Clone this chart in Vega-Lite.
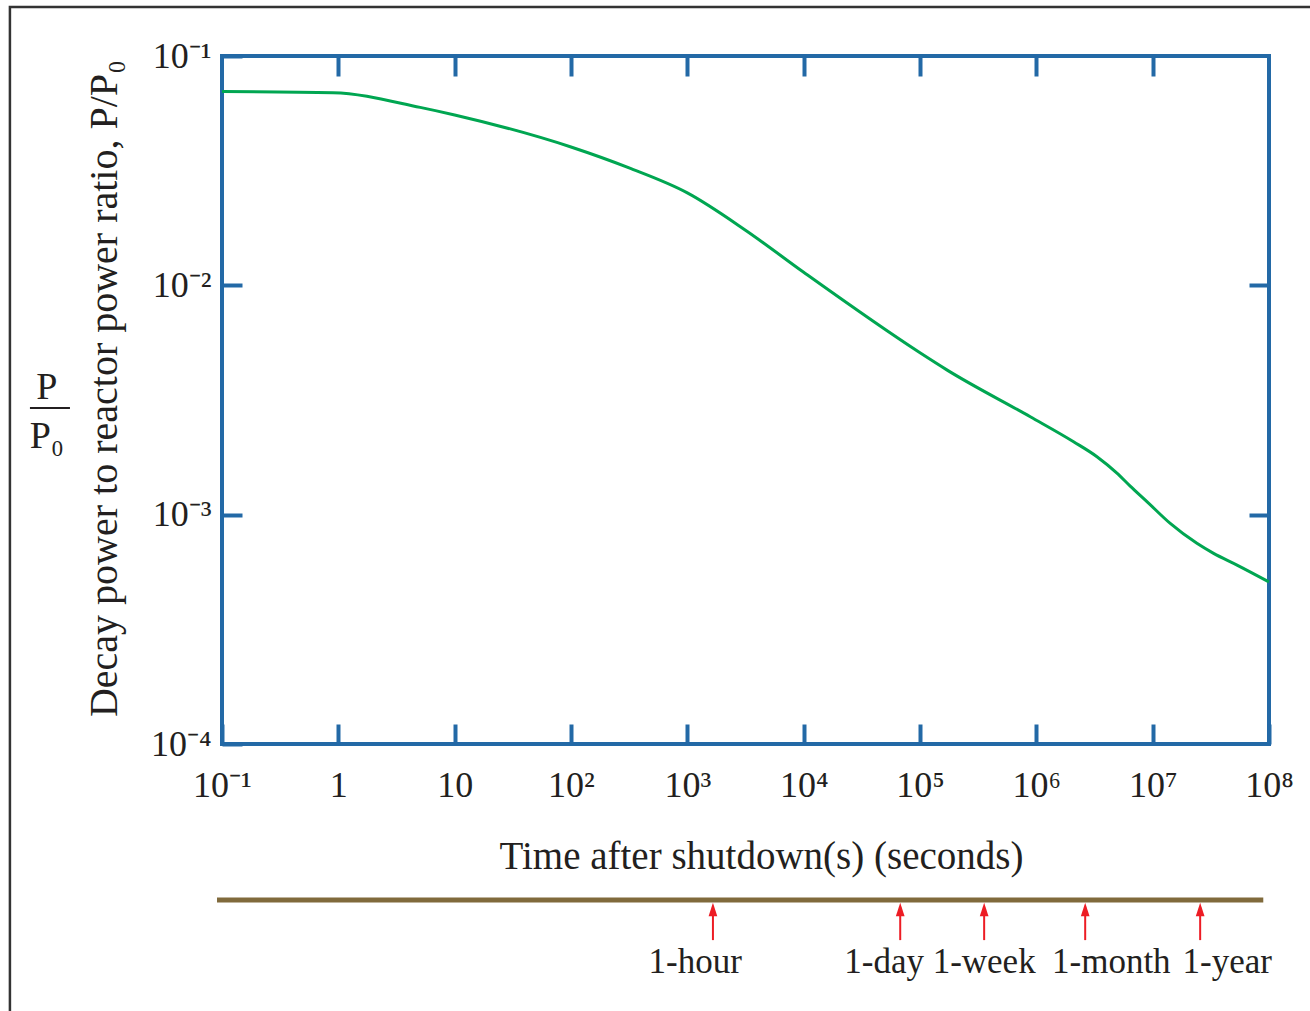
{
  "$schema": "https://vega.github.io/schema/vega-lite/v6.json",
  "width": 1047,
  "height": 688,
  "autosize": {"type": "none"},
  "padding": {"left": 222, "top": 56, "right": 41, "bottom": 267},
  "background": "white",
  "config": {
    "view": {"stroke": "#2369a6", "strokeWidth": 4},
    "font": "Liberation Serif"
  },
  "resolve": {"axis": {"x": "independent", "y": "independent"}},
  "layer": [
    {
      "data": {"values": [{}]},
      "mark": {"type": "rect", "fill": null, "stroke": "#333333", "strokeWidth": 2.5},
      "encoding": {
        "x": {"datum": 0.001503, "type": "quantitative", "axis": null},
        "x2": {"datum": 300000000},
        "y": {"datum": 0.1637, "type": "quantitative", "axis": null},
        "y2": {"datum": 0.000005}
      }
    },
    {
      "data": {"name": "curve", "values": [
        {"t": 0.1, "p": 0.0700},
        {"t": 0.9, "p": 0.0692},
        {"t": 5.05, "p": 0.0597},
        {"t": 10, "p": 0.0553},
        {"t": 100, "p": 0.0401},
        {"t": 316, "p": 0.0325},
        {"t": 1000, "p": 0.0253},
        {"t": 3162, "p": 0.0174},
        {"t": 10000, "p": 0.0114},
        {"t": 100000, "p": 0.00508},
        {"t": 170000, "p": 0.00428},
        {"t": 887000, "p": 0.002673},
        {"t": 2090000, "p": 0.00208},
        {"t": 3320000, "p": 0.00179},
        {"t": 4930000, "p": 0.001518},
        {"t": 6410000, "p": 0.001332},
        {"t": 8930000, "p": 0.00114},
        {"t": 14160000, "p": 0.000916},
        {"t": 24000000, "p": 0.00075},
        {"t": 33400000, "p": 0.000678},
        {"t": 53100000, "p": 0.000603},
        {"t": 100000000, "p": 0.000509}
      ]},
      "mark": {"type": "line", "color": "#00a651", "strokeWidth": 3, "interpolate": "monotone"},
      "encoding": {
        "x": {
          "field": "t", "type": "quantitative",
          "scale": {"type": "log", "domain": [0.1, 100000000], "nice": false},
          "axis": {
            "orient": "bottom",
            "values": [0.1, 1, 10, 100, 1000, 10000, 100000, 1000000, 10000000, 100000000],
            "domain": false, "grid": false,
            "tickSize": -20, "tickWidth": 4, "tickColor": "#2369a6",
            "labelFont": "Liberation Serif", "labelFontSize": 36, "labelColor": "#231f20",
            "labelPadding": 44, "labelFlush": false, "labelOverlap": false,
            "labelExpr": "datum.value < 0.5 ? '10⁻¹' : datum.value < 5 ? '1' : datum.value < 50 ? '10' : '10' + ['','','²','³','⁴','⁵','⁶','⁷','⁸'][round(log(datum.value)/LN10)]",
            "title": "Time after shutdown(s) (seconds)",
            "titleFont": "Liberation Serif", "titleFontSize": 39, "titleFontWeight": "normal",
            "titleColor": "#231f20", "titlePadding": 34, "titleX": 539
          }
        },
        "y": {
          "field": "p", "type": "quantitative",
          "scale": {"type": "log", "domain": [0.0001, 0.1], "nice": false},
          "axis": {
            "orient": "left",
            "values": [0.1, 0.01, 0.001, 0.0001],
            "domain": false, "grid": false,
            "tickSize": -20, "tickWidth": 4, "tickColor": "#2369a6",
            "labelFont": "Liberation Serif", "labelFontSize": 36, "labelColor": "#231f20",
            "labelPadding": 31, "labelFlush": false, "labelOverlap": false,
            "labelExpr": "'10' + ['⁻¹','⁻²','⁻³','⁻⁴'][round(-log(datum.value)/LN10) - 1]",
            "title": "Decay power to reactor power ratio, P/P₀",
            "titleFont": "Liberation Serif", "titleFontSize": 40, "titleFontWeight": "normal",
            "titleColor": "#231f20", "titlePadding": 26, "titleY": 332
          }
        }
      }
    },
    {
      "data": {"name": "curve"},
      "mark": {"type": "line", "strokeOpacity": 0},
      "encoding": {
        "x": {
          "field": "t", "type": "quantitative",
          "axis": {
            "orient": "top",
            "values": [1, 10, 100, 1000, 10000, 100000, 1000000, 10000000],
            "domain": false, "grid": false, "labels": false, "title": null,
            "tickSize": -20, "tickWidth": 4, "tickColor": "#2369a6"
          }
        },
        "y": {
          "field": "p", "type": "quantitative",
          "axis": {
            "orient": "right",
            "values": [0.01, 0.001],
            "domain": false, "grid": false, "labels": false, "title": null,
            "tickSize": -20, "tickWidth": 4, "tickColor": "#2369a6"
          }
        }
      }
    },
    {
      "data": {"values": [{}]},
      "mark": {"type": "rule", "color": "#806a3c", "strokeWidth": 5},
      "encoding": {
        "x": {"datum": 0.0906, "type": "quantitative", "axis": null},
        "x2": {"datum": 89300000},
        "y": {"datum": 0.0000209, "type": "quantitative", "axis": null}
      }
    },
    {
      "data": {"name": "events", "values": [
        {"event": "1-hour", "t": 1660, "label_t": 1167},
        {"event": "1-day", "t": 67600, "label_t": 49200},
        {"event": "1-week", "t": 356000, "label_t": 356000},
        {"event": "1-month", "t": 2630000, "label_t": 4410000},
        {"event": "1-year", "t": 25600000, "label_t": 43800000}
      ]},
      "mark": {"type": "rule", "color": "#ed1c24", "strokeWidth": 2},
      "encoding": {
        "x": {"field": "t", "type": "quantitative", "axis": null},
        "y": {"datum": 0.00001396, "type": "quantitative", "axis": null},
        "y2": {"datum": 0.0000195}
      }
    },
    {
      "data": {"name": "events"},
      "mark": {"type": "point", "shape": "M0,-1L0.65,1L-0.65,1Z", "filled": true, "color": "#ed1c24", "size": 180, "opacity": 1},
      "encoding": {
        "x": {"field": "t", "type": "quantitative", "axis": null},
        "y": {"datum": 0.00001897, "type": "quantitative", "axis": null}
      }
    },
    {
      "data": {"name": "events"},
      "mark": {"type": "text", "font": "Liberation Serif", "fontSize": 35, "color": "#231f20", "baseline": "middle", "align": "center"},
      "encoding": {
        "x": {"field": "label_t", "type": "quantitative", "axis": null},
        "y": {"datum": 0.00001119, "type": "quantitative", "axis": null},
        "text": {"field": "event"}
      }
    },
    {
      "data": {"values": [{"part": "P", "t": 0.003126, "p": 0.00355}, {"part": "P₀", "t": 0.003126, "p": 0.002179}]},
      "mark": {"type": "text", "font": "Liberation Serif", "fontSize": 38, "color": "#231f20", "baseline": "middle", "align": "center"},
      "encoding": {
        "x": {"field": "t", "type": "quantitative", "axis": null},
        "y": {"field": "p", "type": "quantitative", "axis": null},
        "text": {"field": "part"}
      }
    },
    {
      "data": {"values": [{}]},
      "mark": {"type": "rule", "color": "#231f20", "strokeWidth": 2},
      "encoding": {
        "x": {"datum": 0.002234, "type": "quantitative", "axis": null},
        "x2": {"datum": 0.004932},
        "y": {"datum": 0.002918, "type": "quantitative", "axis": null}
      }
    }
  ]
}
